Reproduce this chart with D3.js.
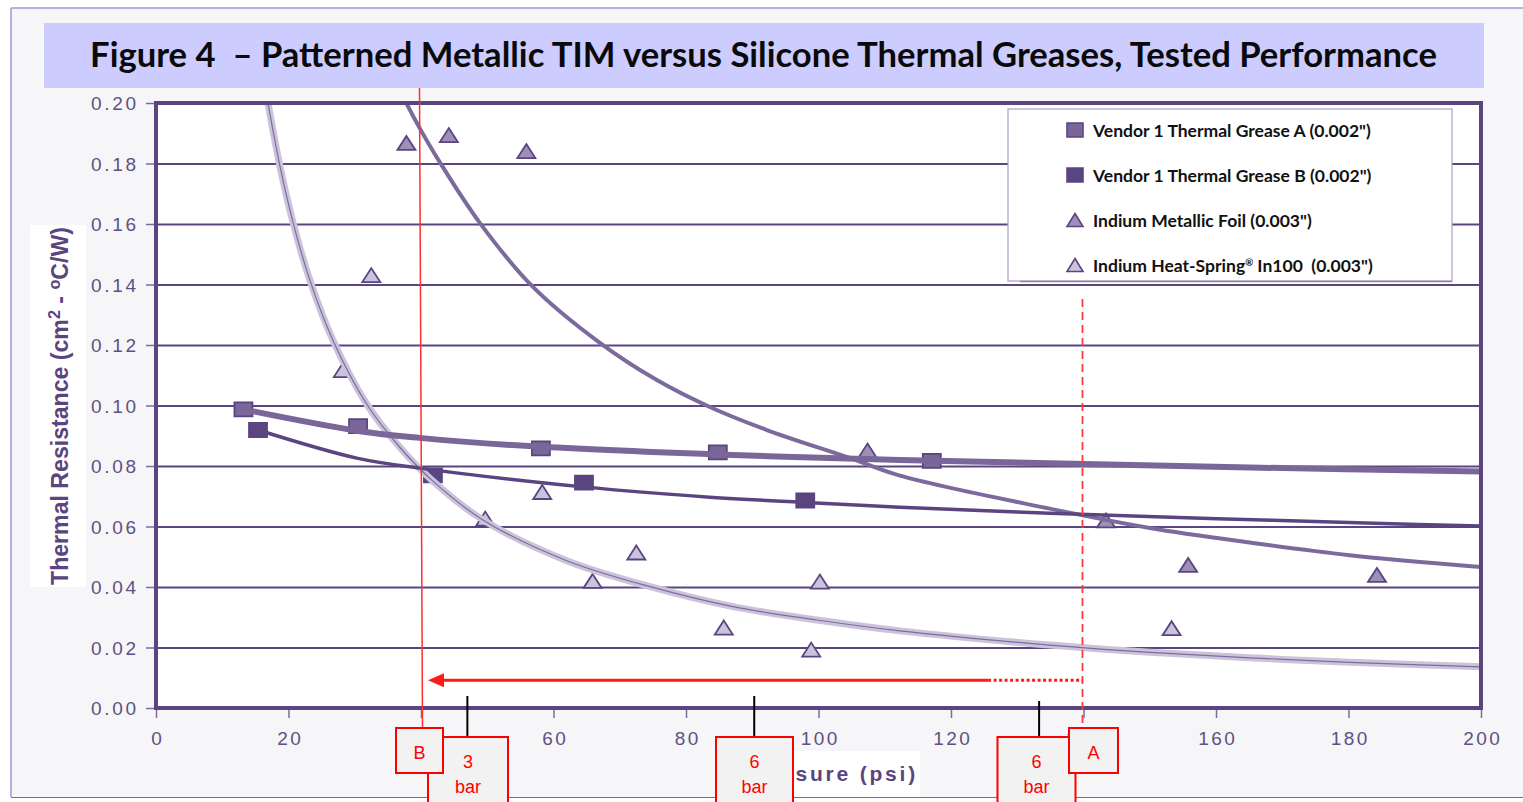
<!DOCTYPE html>
<html><head><meta charset="utf-8">
<script src="https://cdn.jsdelivr.net/npm/d3@7"></script>
<style>
html,body{margin:0;padding:0;background:#fff;}
svg{display:block;}
</style></head><body>
<svg id="chart" width="1523" height="802"></svg>
<script>
// ---------------- DATA ----------------
const xTicks = [0, 20, 40, 60, 80, 100, 120, 140, 160, 180, 200];
const yTicks = [0.00, 0.02, 0.04, 0.06, 0.08, 0.10, 0.12, 0.14, 0.16, 0.18, 0.20];
const seriesNames = [
  'Vendor 1 Thermal Grease A (0.002")',
  'Vendor 1 Thermal Grease B (0.002")',
  'Indium Metallic Foil (0.003")',
  'Indium Heat-Spring\u00AE In100  (0.003")'
];
// measured points (pressure psi, thermal resistance)
const greaseAX = [13.2, 30.5, 58.1, 84.8, 117.1];
const greaseAY = [0.0987, 0.0932, 0.0858, 0.0845, 0.0817];
const greaseBX = [15.4, 41.8, 64.6, 98.0];
const greaseBY = [0.0919, 0.0769, 0.0745, 0.0686];
const foilX = [37.8, 44.2, 55.9, 107.4, 143.4, 155.8, 184.3];
const foilY = [0.1868, 0.1894, 0.1841, 0.0851, 0.0620, 0.0473, 0.0440];
const springX = [28.2, 32.5, 49.7, 58.3, 65.9, 72.5, 85.7, 98.9, 100.2, 153.3];
const springY = [0.1117, 0.1431, 0.0626, 0.0714, 0.0420, 0.0514, 0.0266, 0.0193, 0.0418, 0.0264];
// trend lines
const trendAX = [13.2, 30.5, 39.8, 56.9, 84.7, 112.3, 134.9, 165.1, 200];
const trendAY = [0.0987, 0.0916, 0.0893, 0.0865, 0.0838, 0.0820, 0.0809, 0.0795, 0.0782];
const trendBX = [15.4, 30.3, 39.8, 64.5, 83.6, 97.4, 112.3, 134.9, 160.2, 185.2, 200];
const trendBY = [0.0919, 0.0826, 0.0793, 0.0731, 0.0697, 0.0680, 0.0664, 0.0644, 0.0626, 0.0610, 0.0602];
const trendFoilX = [37.8, 39.8, 42.9, 48.9, 56.9, 67.0, 75.6, 83.6, 92.2, 104.8, 112.3, 134.9, 150.0, 165.1, 180.2, 200];
const trendFoilY = [0.1999, 0.1917, 0.1802, 0.1603, 0.1392, 0.1207, 0.1084, 0.0995, 0.0919, 0.0826, 0.0768, 0.0659, 0.0595, 0.0547, 0.0505, 0.0466];
const trendSpringX = [16.9, 18.7, 20.7, 23.2, 26.7, 31.8, 36.8, 41.8, 49.4, 62.0, 74.6, 87.1, 99.8, 112.3, 134.9, 150.0, 165.1, 180.2, 200];
const trendSpringY = [0.2000, 0.1792, 0.1604, 0.1416, 0.1216, 0.1005, 0.0862, 0.0750, 0.0621, 0.0487, 0.0401, 0.0335, 0.0291, 0.0255, 0.0208, 0.0184, 0.0166, 0.0151, 0.0136];
// annotations
const markB = 40, markA = 140, arrowY = 0.0092, arrowSolidEnd = 125.6;
const barMarks = [{psi: 47.0, label: "3"}, {psi: 90.3, label: "6"}, {psi: 133.3, label: "6"}];

// ---------------- LAYOUT ----------------
const W = 1523, H = 802;
const P = {l: 156, r: 1481, t: 103, b: 708};
const svg = d3.select("#chart");
const x = d3.scaleLinear().domain([0, 200]).range([P.l, P.r]);
const y = d3.scaleLinear().domain([0, 0.2]).range([P.b, P.t]);
const C = {dark: "#5a4580", mid: "#7b6699", foil: "#9d8fb8", light: "#cbc3dc", tick: "#5f5083"};
const zip = (a, b) => a.map((v, i) => [v, b[i]]);

// background / frame
svg.append("rect").attr("width", W).attr("height", H).attr("fill", "#fff");
svg.append("rect").attr("x", 11).attr("y", 8).attr("width", W).attr("height", 789).attr("fill", "#f6f6f8");
svg.append("line").attr("x1", 11).attr("x2", W).attr("y1", 8).attr("y2", 8).attr("stroke", "#9a9ae0").attr("stroke-width", 1.5);
svg.append("line").attr("x1", 11).attr("x2", 11).attr("y1", 8).attr("y2", 797).attr("stroke", "#9a9ae0").attr("stroke-width", 1.5);
svg.append("line").attr("x1", 11).attr("x2", W).attr("y1", 797.5).attr("y2", 797.5).attr("stroke", "#6262ee").attr("stroke-width", 1.2);

// title band
svg.append("rect").attr("x", 44).attr("y", 23).attr("width", 1440).attr("height", 65).attr("fill", "#ccccff");
const title = svg.append("text").attr("x", 763.5).attr("y", 67).attr("text-anchor", "middle")
  .attr("font-family", "Lato, 'Open Sans', sans-serif").attr("font-weight", 700).attr("font-size", 31)
  .attr("fill", "#0a0a0a").attr("xml:space", "preserve")
  .text("Figure 4  \u2013 Patterned Metallic TIM versus Silicone Thermal Greases, Tested Performance");
function fit(sel, target) {
  const fs = parseFloat(sel.attr("font-size"));
  const w = sel.node().getComputedTextLength();
  sel.attr("font-size", (fs * target / w).toFixed(2));
}
fit(title, 1347);

// plot area
svg.append("rect").attr("x", P.l).attr("y", P.t).attr("width", P.r - P.l).attr("height", P.b - P.t).attr("fill", "#fff");
svg.append("defs").append("clipPath").attr("id", "clip").append("rect")
  .attr("x", P.l).attr("y", P.t).attr("width", P.r - P.l).attr("height", P.b - P.t);

// gridlines
const grid = svg.append("g").attr("transform", `translate(${P.l},0)`)
  .call(d3.axisLeft(y).tickValues(yTicks.slice(1, -1)).tickSize(-(P.r - P.l)).tickFormat(""));
grid.select(".domain").remove();
grid.selectAll("line").attr("stroke", C.dark).attr("stroke-width", 2);

// markers
const triType = {draw(ctx, s) { const w = 18, h = 14; ctx.moveTo(0, -h / 2); ctx.lineTo(w / 2, h / 2); ctx.lineTo(-w / 2, h / 2); ctx.closePath(); }};
const sqType = {draw(ctx, s) { const w = 18, h = 14; ctx.rect(-w / 2, -h / 2, w, h); }};
const mk = svg.append("g");
function markers(xs, ys, type, fill) {
  mk.append("g").selectAll("path").data(zip(xs, ys)).join("path")
    .attr("transform", d => `translate(${x(d[0])},${y(d[1])})`)
    .attr("d", d3.symbol(type, 100)())
    .attr("fill", fill).attr("stroke", C.dark).attr("stroke-width", 1.8).attr("stroke-linejoin", "miter");
}
markers(springX, springY, triType, C.light);
markers(foilX, foilY, triType, C.foil);
markers(greaseBX, greaseBY, sqType, C.dark);
markers(greaseAX, greaseAY, sqType, C.mid);

// trend lines
const line = d3.line().x(d => x(d[0])).y(d => y(d[1])).curve(d3.curveCatmullRom.alpha(0.5));
const tl = svg.append("g").attr("clip-path", "url(#clip)").attr("fill", "none").attr("stroke-linecap", "butt");
tl.append("path").attr("d", line(zip(trendSpringX, trendSpringY))).attr("stroke", C.light).attr("stroke-width", 7);
tl.append("path").attr("d", line(zip(trendSpringX, trendSpringY))).attr("stroke", "#7d6c9c").attr("stroke-width", 1.2);
tl.append("path").attr("d", line(zip(trendFoilX, trendFoilY))).attr("stroke", "#7c6a9d").attr("stroke-width", 4);
tl.append("path").attr("d", line(zip(trendBX, trendBY))).attr("stroke", C.dark).attr("stroke-width", 3.5);
tl.append("path").attr("d", line(zip(trendAX, trendAY))).attr("stroke", C.mid).attr("stroke-width", 6);

// frame
svg.append("rect").attr("x", P.l).attr("y", P.t).attr("width", P.r - P.l).attr("height", P.b - P.t)
  .attr("fill", "none").attr("stroke", C.dark).attr("stroke-width", 4);

// axes
const tickFont = "'Liberation Sans', Arial, sans-serif";
const ya = svg.append("g").attr("transform", `translate(${P.l - 2},0)`)
  .call(d3.axisLeft(y).tickValues(yTicks).tickFormat(d3.format(".2f")).tickSize(8).tickPadding(10));
ya.select(".domain").remove();
ya.selectAll("line").attr("stroke", "#7a6c9c").attr("stroke-width", 1.5);
ya.selectAll("text").attr("font-family", tickFont).attr("font-size", 19).attr("letter-spacing", 2.7)
  .attr("fill", C.tick).attr("dx", 2.7).attr("dy", "0.36em");
const xa = svg.append("g").attr("transform", `translate(0,${P.b + 2})`)
  .call(d3.axisBottom(x).tickValues(xTicks).tickFormat(d3.format("d")).tickSize(8).tickPadding(14));
xa.select(".domain").remove();
xa.selectAll("line").attr("stroke", "#7a6c9c").attr("stroke-width", 1.5);
xa.selectAll("text").attr("font-family", tickFont).attr("font-size", 19).attr("letter-spacing", 2.5)
  .attr("fill", C.tick).attr("dx", 1.25);

// legend
const lg = svg.append("g");
lg.append("rect").attr("x", 1008).attr("y", 109).attr("width", 444).attr("height", 172)
  .attr("fill", "#fff").attr("stroke", "#aaa0c6").attr("stroke-width", 1.2);
lg.append("line").attr("x1", 1020).attr("x2", 1452).attr("y1", 281.5).attr("y2", 281.5).attr("stroke", "#8a8a8a").attr("stroke-width", 1.5);
const lgFill = [C.mid, C.dark, C.foil, C.light];
const lgSym = {sq: {draw(ctx){ctx.rect(-8,-7,16,14);}}, tri: {draw(ctx){ctx.moveTo(0,-6.5);ctx.lineTo(8,6.5);ctx.lineTo(-8,6.5);ctx.closePath();}}};
const lgTexts = [];
seriesNames.forEach((name, i) => {
  const cy = 130 + i * 45;
  lg.append("path").attr("transform", `translate(1075,${cy})`)
    .attr("d", d3.symbol(i < 2 ? lgSym.sq : lgSym.tri, 64)())
    .attr("fill", lgFill[i]).attr("stroke", C.dark).attr("stroke-width", 1.6);
  const t = lg.append("text").attr("x", 1093).attr("y", cy + 7).attr("xml:space", "preserve")
    .attr("font-family", "Lato, 'Open Sans', sans-serif").attr("font-weight", 700).attr("font-size", 16).attr("fill", "#111");
  if (name.includes("\u00AE")) {
    const parts = name.split("\u00AE");
    t.append("tspan").text(parts[0]);
    t.append("tspan").attr("dy", -6).attr("font-size", 9).text("\u00AE");
    t.append("tspan").attr("dy", 6).text(parts[1]);
  } else t.text(name);
  lgTexts.push(t);
});
{
  const w0 = lgTexts[0].node().getComputedTextLength();
  const fs = 16 * 278 / w0;
  lgTexts.forEach(t => t.attr("font-size", fs.toFixed(2)));
  lgTexts[3].selectAll("tspan").filter((d, i) => i === 1).attr("font-size", (fs * 0.55).toFixed(2));
}

// y-axis title
svg.append("rect").attr("x", 30).attr("y", 225).attr("width", 56).attr("height", 362).attr("fill", "#fff");
const yt = svg.append("text").attr("transform", "translate(68,406) rotate(-90)").attr("text-anchor", "middle")
  .attr("font-family", tickFont).attr("font-weight", 700).attr("font-size", 20).attr("fill", C.dark)
  .attr("xml:space", "preserve");
yt.append("tspan").text("Thermal Resistance (cm");
yt.append("tspan").attr("dy", -8).attr("font-size", 14).text("2");
yt.append("tspan").attr("dy", 8).text(" - ");
yt.append("tspan").attr("dy", -8).attr("font-size", 14).text("o");
yt.append("tspan").attr("dy", 8).text("C/W)");
{
  const w = yt.node().getComputedTextLength();
  const k = 358 / w;
  yt.attr("font-size", (20 * k).toFixed(2));
  yt.selectAll("tspan").filter(function(){ return this.getAttribute("font-size") === "14"; }).attr("font-size", (14 * k).toFixed(2));
}

// x-axis title
svg.append("rect").attr("x", 720).attr("y", 751).attr("width", 200).attr("height", 46).attr("fill", "#fff");
svg.append("text").attr("x", 918).attr("y", 781).attr("text-anchor", "end")
  .attr("font-family", tickFont).attr("font-weight", 700).attr("font-size", 21).attr("letter-spacing", 2.8)
  .attr("fill", C.dark).text("Pressure (psi)");

// ---------------- ANNOTATIONS ----------------
const red = "#ff1a1a";
const an = svg.append("g");
an.append("line").attr("x1", x(markB) - 1.5).attr("x2", x(markB) + 1.5).attr("y1", 88).attr("y2", 728)
  .attr("stroke", "#ff3030").attr("stroke-width", 1.5);
an.append("line").attr("x1", x(markA) - 1).attr("x2", x(markA) - 1).attr("y1", 299).attr("y2", 728)
  .attr("stroke", "#ff3a3a").attr("stroke-width", 1.8).attr("stroke-dasharray", "8,5");
const ay = y(arrowY);
an.append("line").attr("x1", x(markB) + 20).attr("x2", x(arrowSolidEnd)).attr("y1", ay).attr("y2", ay)
  .attr("stroke", red).attr("stroke-width", 3);
an.append("line").attr("x1", x(arrowSolidEnd)).attr("x2", x(markA) - 1).attr("y1", ay).attr("y2", ay)
  .attr("stroke", red).attr("stroke-width", 3).attr("stroke-dasharray", "3,2.5");
an.append("path").attr("d", `M${x(markB) + 7},${ay} L${x(markB) + 23},${ay - 7} L${x(markB) + 23},${ay + 7} Z`).attr("fill", red);
barMarks.forEach((m, i) => {
  an.append("line").attr("x1", x(m.psi)).attr("x2", x(m.psi)).attr("y1", i === 2 ? 701 : 696).attr("y2", 737)
    .attr("stroke", "#000").attr("stroke-width", 2);
});
function box(cx, yTop, w, h, lines) {
  const g = an.append("g");
  g.append("rect").attr("x", cx - w / 2).attr("y", yTop).attr("width", w).attr("height", h)
    .attr("fill", "#f2f2f2").attr("stroke", "#ff0000").attr("stroke-width", 2);
  lines.forEach((s, i) => g.append("text").attr("x", cx).attr("y", yTop + (lines.length > 1 ? 31 + i * 25 : 31))
    .attr("text-anchor", "middle").attr("font-family", tickFont).attr("font-size", 18).attr("fill", "#ff0000").text(s));
}
const boxCenters = [468, 754.5, 1036.5];
const boxWidths = [80, 77, 78];
barMarks.forEach((m, i) => box(boxCenters[i], 737, boxWidths[i], 80, [m.label, "bar"]));
box(419.5, 728, 47, 45, ["B"]);
box(1093.5, 728, 49, 45, ["A"]);
</script>
</body></html>
